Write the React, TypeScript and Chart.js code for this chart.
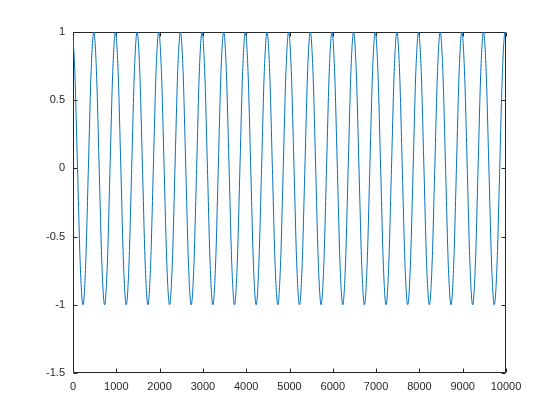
import React, { useEffect, useRef } from "react";
import { Chart, registerables } from "chart.js";

Chart.register(...registerables);

// Sample positions (peaks, troughs, zero crossings and eighth-period points)
const xValues: number[] = [
  0,
  42, 105, 168, 230, 292, 355, 418, 480,
  542, 605, 668, 730, 792, 855, 918, 980,
  1042, 1105, 1168, 1230, 1292, 1355, 1418, 1480,
  1542, 1605, 1668, 1730, 1792, 1855, 1918, 1980,
  2042, 2105, 2168, 2230, 2292, 2355, 2418, 2480,
  2542, 2605, 2668, 2730, 2792, 2855, 2918, 2980,
  3042, 3105, 3168, 3230, 3292, 3355, 3418, 3480,
  3542, 3605, 3668, 3730, 3792, 3855, 3918, 3980,
  4042, 4105, 4168, 4230, 4292, 4355, 4418, 4480,
  4542, 4605, 4668, 4730, 4792, 4855, 4918, 4980,
  5042, 5105, 5168, 5230, 5292, 5355, 5418, 5480,
  5542, 5605, 5668, 5730, 5792, 5855, 5918, 5980,
  6042, 6105, 6168, 6230, 6292, 6355, 6418, 6480,
  6542, 6605, 6668, 6730, 6792, 6855, 6918, 6980,
  7042, 7105, 7168, 7230, 7292, 7355, 7418, 7480,
  7542, 7605, 7668, 7730, 7792, 7855, 7918, 7980,
  8042, 8105, 8168, 8230, 8292, 8355, 8418, 8480,
  8542, 8605, 8668, 8730, 8792, 8855, 8918, 8980,
  9042, 9105, 9168, 9230, 9292, 9355, 9418, 9480,
  9542, 9605, 9668, 9730, 9792, 9855, 9918, 9980,
  10000,
];

const yValues: number[] = [
  0.97,
  0.71, 0, -0.71, -1, -0.71, 0, 0.71, 1,
  0.71, 0, -0.71, -1, -0.71, 0, 0.71, 1,
  0.71, 0, -0.71, -1, -0.71, 0, 0.71, 1,
  0.71, 0, -0.71, -1, -0.71, 0, 0.71, 1,
  0.71, 0, -0.71, -1, -0.71, 0, 0.71, 1,
  0.71, 0, -0.71, -1, -0.71, 0, 0.71, 1,
  0.71, 0, -0.71, -1, -0.71, 0, 0.71, 1,
  0.71, 0, -0.71, -1, -0.71, 0, 0.71, 1,
  0.71, 0, -0.71, -1, -0.71, 0, 0.71, 1,
  0.71, 0, -0.71, -1, -0.71, 0, 0.71, 1,
  0.71, 0, -0.71, -1, -0.71, 0, 0.71, 1,
  0.71, 0, -0.71, -1, -0.71, 0, 0.71, 1,
  0.71, 0, -0.71, -1, -0.71, 0, 0.71, 1,
  0.71, 0, -0.71, -1, -0.71, 0, 0.71, 1,
  0.71, 0, -0.71, -1, -0.71, 0, 0.71, 1,
  0.71, 0, -0.71, -1, -0.71, 0, 0.71, 1,
  0.71, 0, -0.71, -1, -0.71, 0, 0.71, 1,
  0.71, 0, -0.71, -1, -0.71, 0, 0.71, 1,
  0.71, 0, -0.71, -1, -0.71, 0, 0.71, 1,
  0.71, 0, -0.71, -1, -0.71, 0, 0.71, 1,
  0.97,
];

const xMin = 0;
const xMax = 10000;
const xStep = 1000;
const yMin = -1.5;
const yMax = 1;
const yStep = 0.5;

const AXIS_COLOR = "#262626";
const LINE_COLOR = "#0072BD";
const FONT = { family: "'Liberation Sans', Arial, sans-serif", size: 11 };

const boxPlugin = {
  id: "matlabBox",
  beforeDatasetsDraw(chart: any) {
    const { ctx, chartArea, scales } = chart;
    const { left, right, top, bottom } = chartArea;
    const L = Math.round(left) + 0.5;
    const R = Math.round(right) - 0.5;
    const T = Math.round(top) + 0.5;
    const B = Math.round(bottom) - 0.5;
    const tl = 4;
    ctx.save();
    ctx.strokeStyle = AXIS_COLOR;
    ctx.lineWidth = 1;
    ctx.beginPath();
    ctx.moveTo(L, T);
    ctx.lineTo(R, T);
    ctx.lineTo(R, B);
    ctx.lineTo(L, B);
    ctx.closePath();
    scales.x.ticks.forEach((t: any) => {
      const px = Math.round(scales.x.getPixelForValue(t.value)) + 0.5;
      ctx.moveTo(px, B);
      ctx.lineTo(px, B - tl);
      ctx.moveTo(px, T);
      ctx.lineTo(px, T + tl);
    });
    scales.y.ticks.forEach((t: any) => {
      const py = Math.round(scales.y.getPixelForValue(t.value)) + 0.5;
      ctx.moveTo(L, py);
      ctx.lineTo(L + tl, py);
      ctx.moveTo(R, py);
      ctx.lineTo(R - tl, py);
    });
    ctx.stroke();
    ctx.restore();
  },
};

export default function App() {
  const canvasRef = useRef<HTMLCanvasElement | null>(null);

  useEffect(() => {
    document.body.style.margin = "0";
    const canvas = canvasRef.current;
    if (!canvas) return;
    const points = xValues.map((x, i) => ({ x, y: yValues[i] }));
    const chart = new Chart(canvas, {
      type: "line",
      data: {
        datasets: [
          {
            data: points,
            borderColor: LINE_COLOR,
            borderWidth: 1,
            pointRadius: 0,
            fill: false,
            cubicInterpolationMode: "monotone",
          },
        ],
      },
      options: {
        responsive: false,
        animation: false,
        events: [],
        layout: { padding: { left: 0, top: 32, right: 54, bottom: 0 } },
        plugins: {
          legend: { display: false },
          tooltip: { enabled: false },
        },
        scales: {
          x: {
            type: "linear",
            min: xMin,
            max: xMax,
            grid: { display: false, drawTicks: false },
            border: { display: false },
            ticks: {
              stepSize: xStep,
              autoSkip: false,
              maxRotation: 0,
              padding: 7,
              color: AXIS_COLOR,
              font: FONT,
              callback: (v: any) => String(v),
            },
            afterFit: (s: any) => {
              s.height = 47;
            },
          },
          y: {
            type: "linear",
            min: yMin,
            max: yMax,
            grid: { display: false, drawTicks: false },
            border: { display: false },
            ticks: {
              stepSize: yStep,
              padding: 8,
              color: AXIS_COLOR,
              font: FONT,
              callback: (v: any) => String(v),
            },
            afterFit: (s: any) => {
              s.width = 73;
            },
          },
        },
      },
      plugins: [boxPlugin],
    });
    return () => chart.destroy();
  }, []);

  return (
    <div style={{ position: "absolute", left: 0, top: 0, width: 560, height: 420, background: "#fff" }}>
      <canvas ref={canvasRef} width={560} height={420} style={{ width: 560, height: 420 }} />
    </div>
  );
}
